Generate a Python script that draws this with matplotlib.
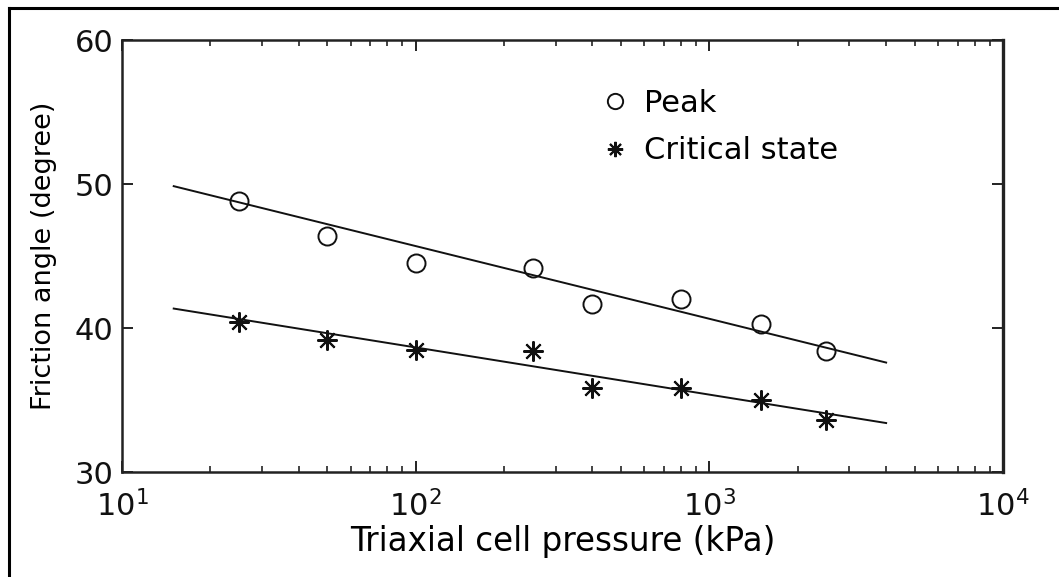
import matplotlib
matplotlib.use("Agg")
import matplotlib.pyplot as plt
from matplotlib.lines import Line2D
from matplotlib.ticker import LogLocator

# ---- data ----
pressure = [25, 50, 100, 250, 400, 800, 1500, 2500]
peak = [48.8, 46.4, 44.5, 44.2, 41.7, 42.0, 40.3, 38.4]
critical = [40.4, 39.2, 38.5, 38.4, 35.8, 35.8, 35.0, 33.6]
fit_x = [15, 4000]
peak_fit = [49.85, 37.6]
crit_fit = [41.35, 33.4]
y_ticks = [30, 40, 50, 60]
x_ticks = [10, 100, 1000, 10000]
x_ticklabels = [r"$\mathdefault{10^{1}}$", r"$\mathdefault{10^{2}}$",
                r"$\mathdefault{10^{3}}$", r"$\mathdefault{10^{4}}$"]

plt.rcParams["font.family"] = ["DejaVu Sans"]
plt.rcParams["mathtext.fontset"] = "dejavusans"

fig = plt.figure(figsize=(10.59, 5.77), dpi=100)
ax = fig.add_axes([122/1059, 1 - 472/577, (1003-122)/1059, (472-40)/577])

ast = (8, 2, 0)
ax.plot(fit_x, peak_fit, color="#111111", lw=1.4)
ax.plot(fit_x, crit_fit, color="#111111", lw=1.4)
ax.plot(pressure, peak, linestyle="none", marker="o", ms=13, mfc="none",
        mec="#111111", mew=1.4, label="Peak")
ax.plot(pressure, critical, linestyle="none", marker=ast, ms=14.5,
        mec="#111111", mew=1.5, label="Critical state")

ax.set_xscale("log")
ax.set_xlim(10, 10000)
ax.set_ylim(30, 60)
ax.set_xticks(x_ticks)
ax.set_xticklabels(x_ticklabels)
ax.xaxis.set_minor_locator(LogLocator(base=10, subs=range(2, 10)))
ax.xaxis.set_minor_formatter(plt.NullFormatter())
ax.set_yticks(y_ticks)

ax.tick_params(axis="both", which="major", direction="in", length=8, width=1.3,
               top=True, right=True, labelsize=22, colors="#111111")
ax.tick_params(axis="x", which="major", pad=13)
ax.tick_params(axis="y", which="major", pad=6)
ax.tick_params(axis="x", which="minor", direction="in", length=4.5, width=1.1,
               top=True, bottom=True, colors="#111111")
for s in ax.spines.values():
    s.set_linewidth(1.8)
    s.set_color("#222222")
ax.spines["right"].set_linewidth(2.4)

ax.set_xlabel("Triaxial cell pressure (kPa)", fontsize=23.5, labelpad=2)
ax.set_ylabel("Friction angle (degree)", fontsize=19.5, labelpad=13)

leg = ax.legend(loc="upper left", bbox_to_anchor=(0.528, 0.915), frameon=False,
                fontsize=22, handlelength=1.0, handletextpad=0.45,
                labelspacing=0.6, borderaxespad=0)
for h in leg.legend_handles:
    h.set_markersize(11)

# outer frame lines (left and top)
fig.add_artist(Line2D([9/1059, 9/1059], [0, 1 - 8/577], transform=fig.transFigure,
                      color="black", lw=2.2))
fig.add_artist(Line2D([9/1059, 1], [1 - 8/577, 1 - 8/577], transform=fig.transFigure,
                      color="black", lw=2.2))

fig.savefig("out.png", dpi=100)
